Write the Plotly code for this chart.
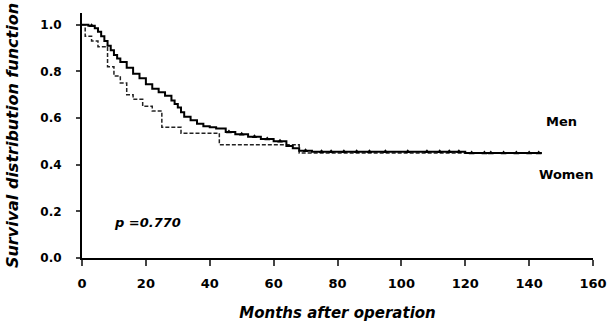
import plotly.graph_objects as go
import numpy as np

# Men (solid) Kaplan-Meier step points
men_t = [0, 2, 4, 5, 6, 7, 8, 9, 10, 11, 12, 14, 16, 18, 20, 22, 24, 26, 28, 29, 30, 31, 32, 34, 36, 38, 40, 42, 45, 48, 52, 56, 60, 64, 66, 68, 72, 80, 90, 100, 110, 120, 130, 140, 144]
men_s = [1.0, 0.995, 0.985, 0.97, 0.95, 0.93, 0.91, 0.89, 0.87, 0.855, 0.84, 0.815, 0.79, 0.77, 0.745, 0.725, 0.71, 0.695, 0.675, 0.66, 0.645, 0.625, 0.605, 0.59, 0.575, 0.565, 0.56, 0.555, 0.54, 0.53, 0.52, 0.51, 0.50, 0.48, 0.47, 0.46, 0.455, 0.455, 0.455, 0.455, 0.455, 0.45, 0.45, 0.45, 0.45]

# Women (dashed)
women_t = [0, 1, 3, 5, 8, 10, 12, 14, 16, 19, 22, 25, 31, 43, 68, 143]
women_s = [1.0, 0.95, 0.93, 0.905, 0.82, 0.78, 0.75, 0.70, 0.68, 0.65, 0.63, 0.56, 0.535, 0.485, 0.45, 0.45]

# censored observation times (men)
men_cens = [3, 46, 50, 54, 58, 62, 70, 75, 78, 82, 86, 90, 95, 102, 108, 112, 115, 118, 122, 126, 128, 132, 136, 140, 143]

x_ticks = [0, 20, 40, 60, 80, 100, 120, 140, 160]
y_ticks = [0.0, 0.2, 0.4, 0.6, 0.8, 1.0]
y_tick_labels = ["0.0", "0.2", "0.4", "0.6", "0.8", "1.0"]


def step_at(ts, ss, t):
    idx = np.searchsorted(ts, t, side="right") - 1
    return ss[max(idx, 0)]


cens_y = [step_at(men_t, men_s, t) for t in men_cens]

font_fam = "DejaVu Sans, Verdana, sans-serif"

fig = go.Figure()
fig.add_trace(go.Scatter(x=women_t, y=women_s, mode="lines", line_shape="hv",
                         line=dict(color="#222", width=1.5, dash="4px,2px"), name="Women"))
fig.add_trace(go.Scatter(x=men_t, y=men_s, mode="lines", line_shape="hv",
                         line=dict(color="#000", width=2), name="Men"))
fig.add_trace(go.Scatter(x=men_cens, y=cens_y, mode="markers",
                         marker=dict(symbol="triangle-up", size=5, color="#000"),
                         name="censored"))

fig.add_annotation(x=150, y=0.585, text="<b>Men</b>", showarrow=False, xanchor="center",
                   font=dict(family=font_fam, size=13, color="#000"))
fig.add_annotation(x=151.5, y=0.358, text="<b>Women</b>", showarrow=False, xanchor="center",
                   font=dict(family=font_fam, size=13, color="#000"))
fig.add_annotation(x=20.5, y=0.151, text="<b><i>p =0.770</i></b>", showarrow=False, xanchor="center",
                   font=dict(family=font_fam, size=13, color="#000"))

fig.update_layout(
    width=609, height=325,
    margin=dict(l=82, r=16, t=13, b=67, autoexpand=False),
    paper_bgcolor="white", plot_bgcolor="white",
    showlegend=False,
    font=dict(family=font_fam, size=12, color="#000"),
    xaxis=dict(range=[0, 160], tickmode="array", tickvals=x_ticks,
               ticktext=["<b>%d</b>" % v for v in x_ticks], automargin=False,
               ticks="outside", ticklen=6, tickwidth=1.5, ticklabelstandoff=6,
               showline=True, linecolor="#000", linewidth=2, showgrid=False, zeroline=False,
               tickfont=dict(family=font_fam, size=13, color="#000"),
               title=dict(text="<b><i>Months after operation</i></b>", standoff=18,
                          font=dict(family=font_fam, size=15, color="#000"))),
    yaxis=dict(range=[0, 1.05], tickmode="array", tickvals=y_ticks,
               ticktext=["<b>%s</b>" % t for t in y_tick_labels], automargin=False,
               ticks="outside", ticklen=4, tickwidth=1.5, ticklabelstandoff=12,
               showline=True, linecolor="#000", linewidth=2, showgrid=False, zeroline=False,
               tickfont=dict(family=font_fam, size=12, color="#000"),
               title=dict(text="<b><i>Survival distribution function</i></b>", standoff=18,
                          font=dict(family=font_fam, size=16, color="#000"))),
)

fig.write_html("out.html")
